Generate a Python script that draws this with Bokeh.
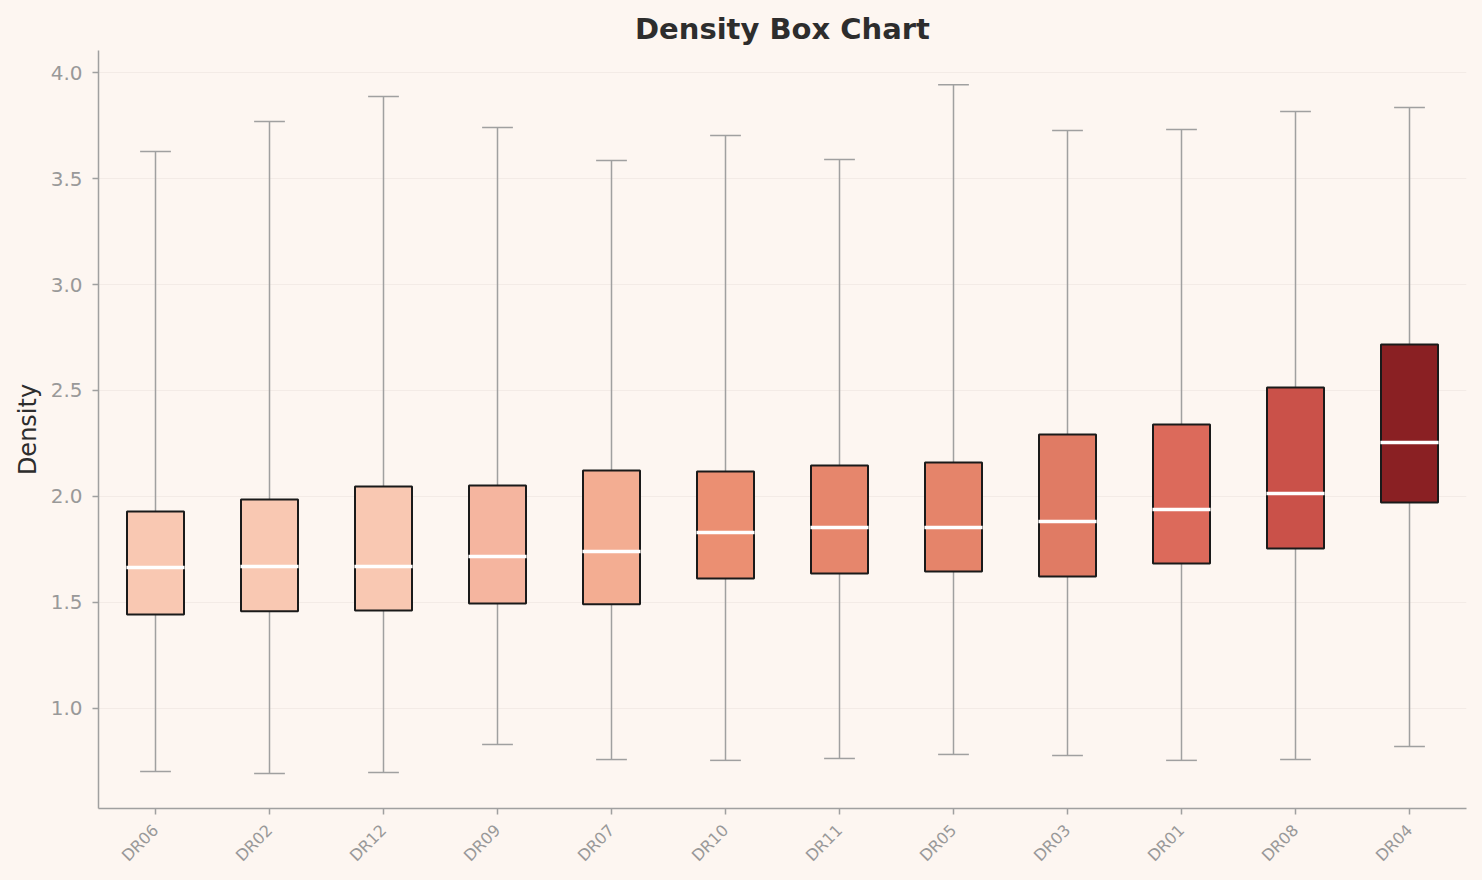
from math import pi

from bokeh.plotting import figure
from bokeh.models import (ColumnDataSource,
                          FactorRange,
                          Range1d,
                          FixedTicker,
                          NumeralTickFormatter)
from bokeh.transform import dodge
from bokeh.embed import file_html
from bokeh.resources import INLINE

# Box statistics per drive (sorted by median)
drives = ["DR06", "DR02", "DR12", "DR09", "DR07", "DR10",
          "DR11", "DR05", "DR03", "DR01", "DR08", "DR04"]
whisker_low = [0.703, 0.693, 0.698, 0.830, 0.759, 0.755,
               0.764, 0.783, 0.778, 0.755, 0.759, 0.821]
q1 = [1.443, 1.458, 1.462, 1.495, 1.491, 1.613,
      1.637, 1.646, 1.623, 1.684, 1.755, 1.972]
median = [1.665, 1.670, 1.670, 1.717, 1.741, 1.830,
          1.854, 1.854, 1.882, 1.939, 2.014, 2.255]
q3 = [1.929, 1.986, 2.047, 2.052, 2.123, 2.118,
      2.146, 2.160, 2.292, 2.340, 2.514, 2.717]
whisker_high = [3.627, 3.769, 3.887, 3.741, 3.585, 3.703,
                3.590, 3.943, 3.726, 3.731, 3.816, 3.835]

# Box fill colours (Reds, by median)
box_colors = ["#f9c8b2", "#f9c8b2", "#f9c8b2", "#f5b59f", "#f3ad92", "#eb8f72",
              "#e6866c", "#e5846a", "#e07b64", "#dc6a5b", "#ca5149", "#8a2023"]

BG = "#fdf6f1"
GREY = "#a0a0a0"
DARK = "#2d2d2d"
FONT = "DejaVu Sans"

source = ColumnDataSource(dict(drive=drives,
                               low=whisker_low,
                               q1=q1,
                               median=median,
                               q3=q3,
                               high=whisker_high,
                               color=box_colors))

p = figure(width=1482, height=880,
           x_range=FactorRange(*drives, range_padding=0),
           y_range=Range1d(0.528, 4.104),
           title="Density Box Chart",
           output_backend="svg",
           toolbar_location=None,
           min_border_left=98, min_border_right=16,
           min_border_top=50, min_border_bottom=72)

p.x_range.factor_padding = 0
p.x_range.range_padding = 0

# whiskers
p.segment(x0="drive", y0="q3", x1="drive", y1="high",
          line_color=GREY, line_width=1.5, source=source)
p.segment(x0="drive", y0="low", x1="drive", y1="q1",
          line_color=GREY, line_width=1.5, source=source)

# caps
cap_l = dodge("drive", -0.135, range=p.x_range)
cap_r = dodge("drive", 0.135, range=p.x_range)
p.segment(x0=cap_l, y0="high", x1=cap_r, y1="high",
          line_color=GREY, line_width=1.5, source=source)
p.segment(x0=cap_l, y0="low", x1=cap_r, y1="low",
          line_color=GREY, line_width=1.5, source=source)

# boxes
p.vbar(x="drive", width=0.5, bottom="q1", top="q3",
       fill_color="color", line_color="#1a1a1a", line_width=2,
       source=source)

# medians
med_l = dodge("drive", -0.255, range=p.x_range)
med_r = dodge("drive", 0.255, range=p.x_range)
p.segment(x0=med_l, y0="median", x1=med_r, y1="median",
          line_color="white", line_width=3.5, source=source)

# background, outline, grid
p.background_fill_color = BG
p.border_fill_color = BG
p.outline_line_color = None
p.xgrid.grid_line_color = None
p.ygrid.grid_line_color = "#f3ebe6"
p.ygrid.grid_line_width = 1

# title
p.title.align = "center"
p.title.text_font = FONT
p.title.text_font_size = "29px"
p.title.text_font_style = "bold"
p.title.text_color = DARK

# y axis
p.yaxis.ticker = FixedTicker(ticks=[1.0, 1.5, 2.0, 2.5, 3.0, 3.5, 4.0])
p.yaxis.formatter = NumeralTickFormatter(format="0.0")
p.yaxis.axis_label = "Density"
p.yaxis.axis_label_text_font = FONT
p.yaxis.axis_label_text_font_size = "24px"
p.yaxis.axis_label_text_font_style = "normal"
p.yaxis.axis_label_text_color = DARK
p.yaxis.axis_label_standoff = 6
p.yaxis.major_label_text_font_size = "20px"
p.yaxis.major_label_standoff = 10

# x axis
p.xaxis.major_label_orientation = pi / 4
p.xaxis.major_label_text_font_size = "16px"
p.xaxis.major_label_standoff = 13

for ax in (p.xaxis, p.yaxis):
    ax.axis_line_color = GREY
    ax.axis_line_width = 1.5
    ax.major_tick_line_color = GREY
    ax.major_tick_line_width = 1.5
    ax.major_tick_out = 6
    ax.major_tick_in = 0
    ax.minor_tick_line_color = None
    ax.major_label_text_color = "#999999"
    ax.major_label_text_font = FONT

html = file_html(p, INLINE)
html = html.replace("</head>",
                    "<style>html,body{margin:0;padding:0;background:%s;}</style></head>" % BG, 1)
open("out.html", "w").write(html)
